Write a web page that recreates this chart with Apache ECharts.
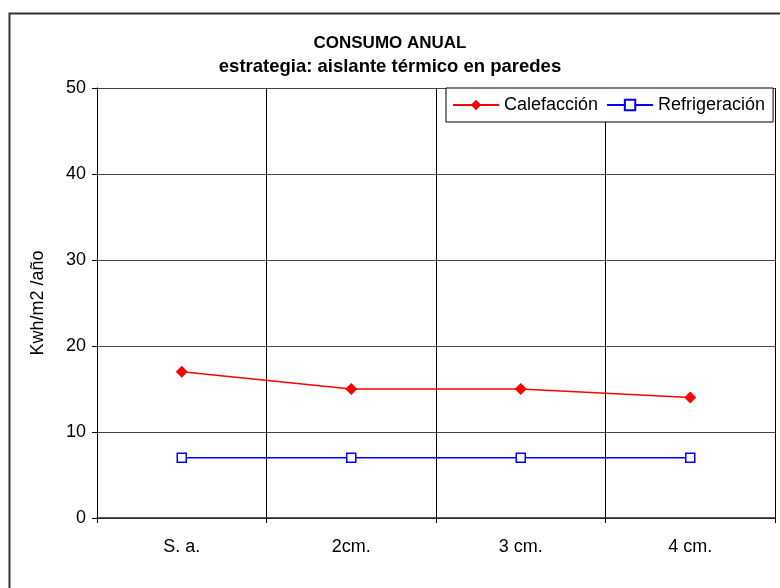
<!DOCTYPE html>
<html>
<head>
<meta charset="utf-8">
<script src="https://cdn.jsdelivr.net/npm/echarts@6/dist/echarts.min.js"></script>
<style>
  html, body { margin: 0; padding: 0; background: #fff; }
  #chart { width: 780px; height: 588px; }
</style>
</head>
<body>
<div id="chart"></div>
<script>
// Annual consumption per insulation thickness
const categories = ['S. a.', '2cm.', '3 cm.', '4 cm.'];
const calefaccion = [17, 15, 15, 14];
const refrigeracion = [7, 7, 7, 7];
const yTicks = { min: 0, max: 50, interval: 10 };

const FONT = '"Liberation Sans", Arial, sans-serif';

const chart = echarts.init(document.getElementById('chart'));
chart.setOption({
  animation: false,
  backgroundColor: '#fff',
  textStyle: { fontFamily: FONT },
  graphic: [
    {
      type: 'rect',
      left: 7, top: 11,
      shape: { width: 790, height: 600 },
      style: { fill: 'none', stroke: '#333', lineWidth: 2 },
      silent: true
    }
  ],
  title: [
    {
      text: 'CONSUMO ANUAL',
      left: 'center', top: 35,
      padding: [0, 0, 0, 16],
      textStyle: { fontFamily: FONT, fontSize: 17, fontWeight: 'bold', color: '#000' }
    },
    {
      text: 'estrategia: aislante térmico en paredes',
      left: 'center', top: 57,
      padding: [0, 0, 0, 18],
      textStyle: { fontFamily: FONT, fontSize: 18.5, fontWeight: 'bold', color: '#000' }
    }
  ],
  legend: {
    left: 446, top: 88,
    padding: [8, 8, 8, 6],
    itemGap: 8,
    itemWidth: 46,
    itemHeight: 13,
    borderColor: '#000',
    borderWidth: 1,
    backgroundColor: '#fff',
    textStyle: { fontFamily: FONT, fontSize: 18, color: '#000' },
    data: ['Calefacción', 'Refrigeración']
  },
  grid: { left: 97, right: 5, top: 88, bottom: 70, containLabel: false },
  xAxis: {
    type: 'category',
    data: categories,
    boundaryGap: true,
    axisLine: { lineStyle: { color: '#222', width: 1.5 } },
    axisTick: { show: true, interval: 0, length: 5, lineStyle: { color: '#000' } },
    axisLabel: { fontFamily: FONT, fontSize: 18, color: '#000', margin: 20, interval: 0 },
    splitLine: { show: true, interval: 0, lineStyle: { color: '#000', width: 1 } }
  },
  yAxis: {
    type: 'value',
    min: yTicks.min, max: yTicks.max, interval: yTicks.interval,
    name: 'Kwh/m2 /año',
    nameLocation: 'middle',
    nameGap: 50,
    nameRotate: 90,
    nameTextStyle: { fontFamily: FONT, fontSize: 18, color: '#000' },
    axisLine: { show: true, lineStyle: { color: '#000', width: 1 } },
    axisTick: { show: true, inside: false, length: 5, lineStyle: { color: '#000' } },
    axisLabel: { fontFamily: FONT, fontSize: 18, color: '#000', margin: 11 },
    splitLine: { show: true, lineStyle: { color: '#444', width: 1 } }
  },
  series: [
    {
      name: 'Calefacción',
      type: 'line',
      data: calefaccion,
      symbol: 'diamond',
      symbolSize: 12,
      lineStyle: { color: '#ff0000', width: 1.5 },
      itemStyle: { color: '#ff0000', borderColor: '#ff0000', borderWidth: 0 },
      z: 3
    },
    {
      name: 'Refrigeración',
      type: 'line',
      data: refrigeracion,
      symbol: 'rect',
      symbolSize: 9,
      lineStyle: { color: '#0000ff', width: 1.5 },
      itemStyle: { color: '#ffffff', borderColor: '#0000ff', borderWidth: 1.5 },
      z: 3
    }
  ]
});
</script>
</body>
</html>
